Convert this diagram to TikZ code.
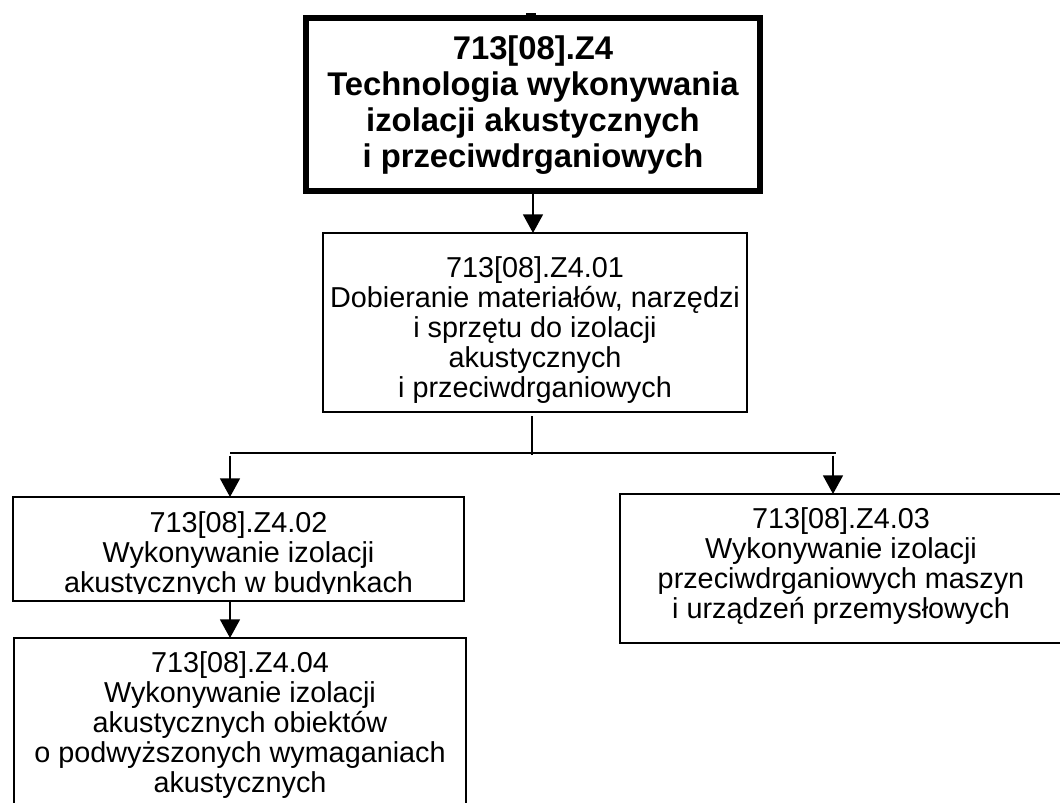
\documentclass[tikz,border=0pt]{standalone}
\usepackage{fontspec}
\setmainfont{Liberation Sans}
\usetikzlibrary{arrows.meta}
\begin{document}
\begin{tikzpicture}[x=0.75pt,y=-0.75pt,
  box/.style={draw,line width=1.4pt,inner sep=0pt,outer sep=0pt},
  mainbox/.style={draw,line width=4.5pt,inner sep=0pt,outer sep=0pt},
  txt/.style={align=center,inner sep=0pt,font=\fontsize{21.6}{22.4}\selectfont},
  ttl/.style={align=center,inner sep=0pt,font=\fontsize{24.6}{27}\selectfont\bfseries},
  conn/.style={line width=1.2pt},
  arr/.style={line width=1.2pt,-{Triangle[width=15pt,length=14pt]}}]
\useasboundingbox (0,0) rectangle (1060,803);
\clip (0,0) rectangle (1060,803);
% boxes
\node[mainbox,minimum width=340.5pt,minimum height=129.75pt] (m) at (533,104.5) {};
\node[box,minimum width=318pt,minimum height=134.25pt] (b1) at (535,322.5) {};
\node[box,minimum width=338.25pt,minimum height=78pt] (b2) at (238.5,549) {};
\node[box,minimum width=331.5pt,minimum height=111.75pt] (b3) at (841,568.5) {};
\node[box,minimum width=339pt,minimum height=136.5pt] (b4) at (240,729) {};
% top stub
\fill (526,12.5) rectangle (536,16);
% texts
\node[ttl] (mt) at (533,105) {713[08].Z4\\Technologia wykonywania\\izolacji akustycznych\\i przeciwdrganiowych};
\node[txt] (b1t) at (535,330) {713[08].Z4.01\\Dobieranie materiałów, narzędzi\\i sprzętu do izolacji\\akustycznych\\i przeciwdrganiowych};
\begin{scope}
\clip (13,497) rectangle (464,593);
\node[txt] (b2t) at (238.5,555) {713[08].Z4.02\\Wykonywanie izolacji\\akustycznych w budynkach};
\end{scope}
\node[txt] (b3t) at (841,566) {713[08].Z4.03\\Wykonywanie izolacji\\przeciwdrganiowych maszyn\\i urządzeń przemysłowych};
\node[txt] (b4t) at (240,725) {713[08].Z4.04\\Wykonywanie izolacji\\akustycznych obiektów\\o podwyższonych wymaganiach\\akustycznych};
% connectors
\coordinate (jL) at (230,453);
\coordinate (jR) at (836,453);
\coordinate (jM) at (532,455);
\coordinate (a3) at (833,453);
\draw[arr] (m.south) -- (m.south |- b1.north);
\draw[conn,shorten <=3pt] (b1.south -| jM) -- (jM);
\draw[conn] (jL) -- (jR);
\draw[arr,shorten <=2pt] (jL) -- (jL |- b2.north);
\draw[arr,shorten <=2pt] (a3) -- (a3 |- b3.north);
\draw[arr] (b2.south -| jL) -- (b4.north -| jL);
\end{tikzpicture}
\end{document}
